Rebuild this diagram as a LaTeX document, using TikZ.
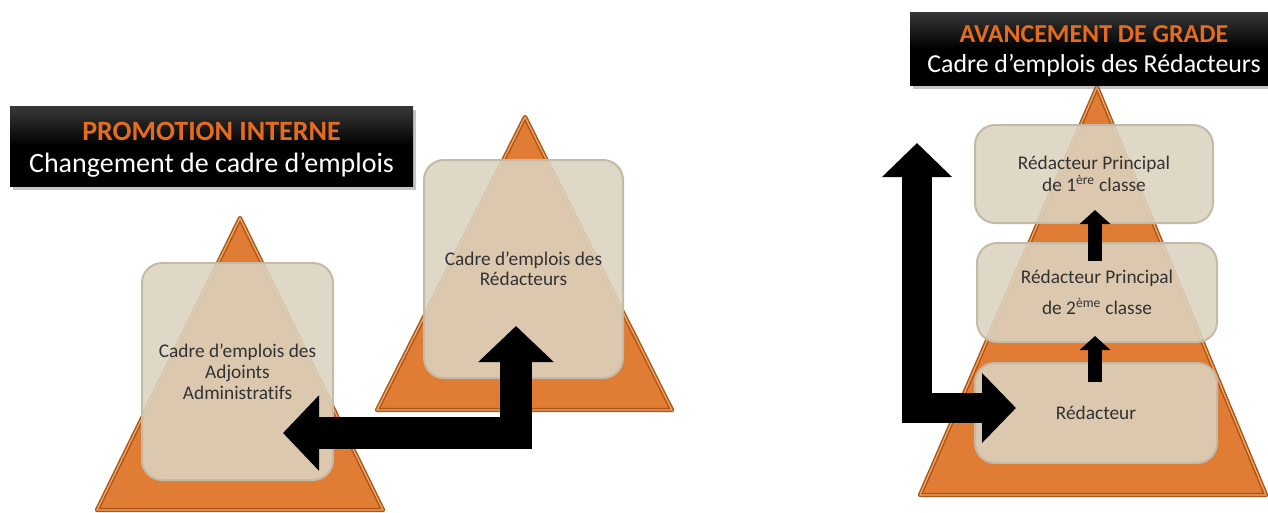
\documentclass[tikz,border=0pt]{standalone}
\usepackage{fontspec}
\setmainfont{Carlito}[RawFeature=-liga]
\usetikzlibrary{arrows.meta,shadows,calc}
\definecolor{org}{RGB}{224,124,52}
\definecolor{orgdark}{RGB}{170,85,25}
\definecolor{orglight}{RGB}{245,165,95}
\definecolor{orgtext}{RGB}{228,108,28}
\definecolor{beige}{RGB}{220,211,192}
\definecolor{beigeline}{RGB}{196,186,168}
\definecolor{boxtext}{RGB}{50,50,50}
\begin{document}
\begin{tikzpicture}[x=0.75pt,y=-0.75pt,
  tri/.style={fill=org, draw=orgdark, double=orglight, double distance=1pt, line width=1.1pt, line join=round},
  card/.style={rounded corners=15pt, fill=beige, fill opacity=0.88, draw=beigeline, line width=1.5pt, text opacity=1, text=boxtext, align=center, inner sep=0pt},
  titlebox/.style={top color=black!78, bottom color=black, middle color=black, draw=none, inner sep=0pt, drop shadow={opacity=0.45, shadow xshift=2pt, shadow yshift=-3pt}},
  orgtitle/.style={anchor=base, text=orgtext, font=\bfseries\fontsize{21}{24}\selectfont, inner sep=0pt},
  whitetitle/.style={anchor=base, text=white, inner sep=0pt},
  bigarrow/.style={line join=miter, color=black},
  smallarrow/.style={line width=11pt, color=black, -{Triangle[length=10.5pt,width=22.5pt]}},
]
\useasboundingbox (0,0) rectangle (1268,512);
\fill[white] (0,0) rectangle (1268,512);

% ---------- left diagram ----------
\draw[tri] (240,218) -- (383,510) -- (97,510) -- cycle;
\draw[tri] (525,117) -- (672,410) -- (377,410) -- cycle;

\node[card, minimum width=143.25pt, minimum height=162.75pt, font=\fontsize{14.5}{15.75}\selectfont] (lb) at (237.5,371.5)
  {Cadre d’emplois des\\Adjoints\\Administratifs};
\node[card, minimum width=149.25pt, minimum height=163.5pt, font=\fontsize{14.5}{15}\selectfont] (rb) at (523.5,269)
  {Cadre d’emplois des\\Rédacteurs};

\coordinate (la1) at ($(rb.south)+(-7.5,-53)$);
\coordinate (la2) at ($(lb.east)+(-51,61.5)$);
\draw[bigarrow, line width=24pt, {Triangle[length=27pt,width=55pt]}-{Triangle[length=27pt,width=55pt]}] (la1) |- (la2);

\node[titlebox, minimum width=302.25pt, minimum height=60pt] (t1) at (211.5,146) {};
\node[orgtitle] (t1a) at (211.5,140) {PROMOTION INTERNE};
\node[whitetitle, font=\fontsize{21}{25}\selectfont] (t1b) at (211.5,172) {Changement de cadre d’emplois};

% ---------- right diagram ----------
\draw[tri] (1097,87) -- (1266,495) -- (920,495) -- cycle;

\node[card, minimum width=178.5pt, minimum height=73.5pt, font=\fontsize{14.5}{16.5}\selectfont] (r3) at (1094,174)
  {Rédacteur Principal\\de 1\textsuperscript{ère} classe};
\node[card, minimum width=180pt, minimum height=74.25pt, font=\fontsize{14.5}{23}\selectfont] (r2) at (1097,292.5)
  {Rédacteur Principal\\de 2\textsuperscript{ème} classe};
\node[card, minimum width=181.5pt, minimum height=75pt, font=\fontsize{14.5}{16.5}\selectfont] (r1) at (1096,413)
  {Rédacteur};

\coordinate (s1) at ($(r1.north)+(-1,20)$);
\coordinate (s2) at ($(r2.south)+(-2,-7)$);
\coordinate (s3) at ($(r2.north)+(-2,19)$);
\coordinate (s4) at ($(r3.south)+(1,-14)$);
\draw[smallarrow] (s1) -- (s2);
\draw[smallarrow] (s3) -- (s4);

\coordinate (ra1) at (917,143);
\coordinate (ra2) at ($(r1.west)+(42,-5)$);
\draw[bigarrow, line width=22.5pt, {Triangle[length=25.5pt,width=51pt]}-{Triangle[length=25.5pt,width=51pt]}] (ra1) |- (ra2);

\node[titlebox, minimum width=268.5pt, minimum height=54.75pt] (t2) at (1089,48.5) {};
\node[orgtitle, font=\bfseries\fontsize{19.4}{23}\selectfont] (t2a) at (1094,42) {AVANCEMENT DE GRADE};
\node[whitetitle, font=\fontsize{19.4}{23}\selectfont] (t2b) at (1094,72) {Cadre d’emplois des Rédacteurs};
\end{tikzpicture}
\end{document}
